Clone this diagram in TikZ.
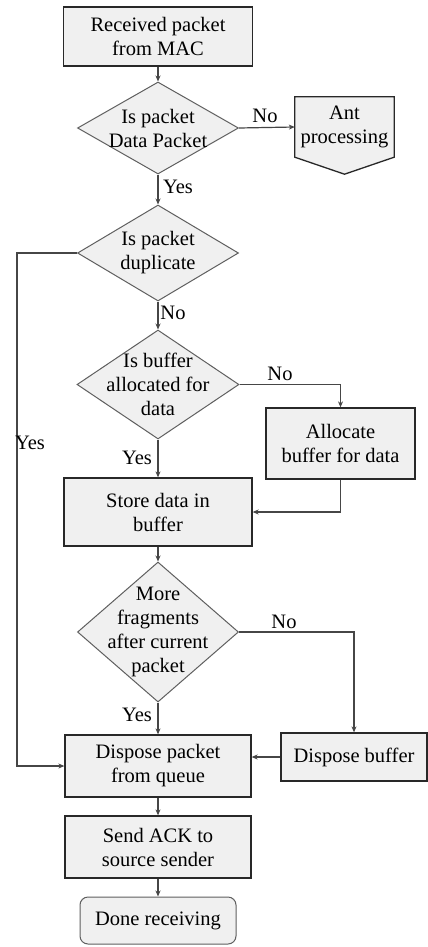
\documentclass[tikz,border=0pt]{standalone}
\usepackage{fontspec}
\setmainfont{Liberation Serif}
\usetikzlibrary{shapes.geometric,arrows.meta,calc,backgrounds}
\definecolor{boxfill}{RGB}{240,240,240}
\definecolor{boxline}{RGB}{40,40,40}
\definecolor{decline}{RGB}{95,95,95}
\definecolor{flowline}{RGB}{70,70,70}
\begin{document}
\begin{tikzpicture}[x=1pt,y=-1pt,
  every node/.style={font=\fontsize{20.5}{24}\selectfont},
  box/.style={draw=boxline,fill=boxfill,line width=1.3pt,align=center,inner sep=0pt},
  dec/.style={diamond,draw=decline,fill=boxfill,line width=1pt,inner sep=0pt},
  flow/.style={draw=flowline,line width=1.2pt,-{Stealth[length=6pt,width=5pt]}},
  lbl/.style={inner sep=1pt,text=black}
]
\path[use as bounding box] (0,0) rectangle (428,947);

% process column
\node[box,minimum width=189pt,minimum height=59pt] (recv) at (158,36.5) {Received packet\\from MAC};
\node[dec,minimum width=161pt,minimum height=92pt,label={[align=center]center:{Is packet\\Data Packet}}] (d1) at (158,128) {};
\node[align=center,minimum width=99pt,minimum height=60pt,inner sep=0pt] (ant) at (344.5,127) {Ant\\processing};
\node[dec,minimum width=161pt,minimum height=96pt,label={[align=center]center:{Is packet\\duplicate}}] (d2) at (158,253) {};
\node[dec,minimum width=162pt,minimum height=109pt,label={[align=center]center:{Is buffer\\allocated for\\data}}] (d3) at (158,384.5) {};
\node[box,minimum width=149pt,minimum height=71pt] (alloc) at (340.5,443.5) {Allocate\\buffer for data};
\node[box,minimum width=188pt,minimum height=68pt] (store) at (158,512) {Store data in\\buffer};
\node[dec,minimum width=161pt,minimum height=140pt,label={[align=center]center:{More\\fragments\\after current\\packet}}] (d4) at (158,632) {};
\node[box,minimum width=186pt,minimum height=62pt] (dpack) at (158,766) {Dispose packet\\from queue};
\node[box,minimum width=146pt,minimum height=48pt] (dbuf) at (354,757) {Dispose buffer};
\node[box,minimum width=186pt,minimum height=62pt] (ack) at (158,847) {Send ACK to\\source sender};
\node[box,rounded corners=8pt,line width=1pt,draw=decline,minimum width=156pt,minimum height=47pt] (done) at (158,920.5) {Done receiving};

% white page and the off-page connector outline, both behind the text
\begin{scope}[on background layer]
\fill[white] (0,0) rectangle (428,947);
\draw[boxline,fill=boxfill,line width=1.3pt] (ant.north west) -- (ant.north east) -- (ant.south east) -- ($(ant.south)+(0,17)$) -- (ant.south west) -- cycle;
\end{scope}

% connectors
\draw[flow] (recv.south) -- (d1.north);
\draw[flow] (d1.east) -- (ant.west);
\draw[flow] (d1.south) -- (d2.north);
\draw[flow] (d2.west) -- ++(-60,0) |- (dpack.west);
\draw[flow] (d2.south) -- (d3.north);
\draw[flow] (d3.east) -| (alloc.north);
\draw[flow] (d3.south) -- (store.north);
\draw[flow] (alloc.south) |- (store.east);
\draw[flow] (store.south) -- (d4.north);
\draw[flow] (d4.east) -| (dbuf.north);
\draw[flow] (d4.south) -- (dpack.north);
\draw[flow] (dbuf.west) -- (dpack.east |- dbuf.west);
\draw[flow] (dpack.south) -- (ack.north);
\draw[flow] (ack.south) -- (done.north);

% branch labels
\node[lbl] (no1) at (265,116) {No};
\node[lbl] (yes1) at (178,187) {Yes};
\node[lbl] (yes2) at (30,443) {Yes};
\node[lbl] (no2) at (173,313) {No};
\node[lbl] (no3) at (280,374) {No};
\node[lbl] (yes3) at (137,458) {Yes};
\node[lbl] (no4) at (284,622) {No};
\node[lbl] (yes4) at (137,715) {Yes};
\end{tikzpicture}
\end{document}
